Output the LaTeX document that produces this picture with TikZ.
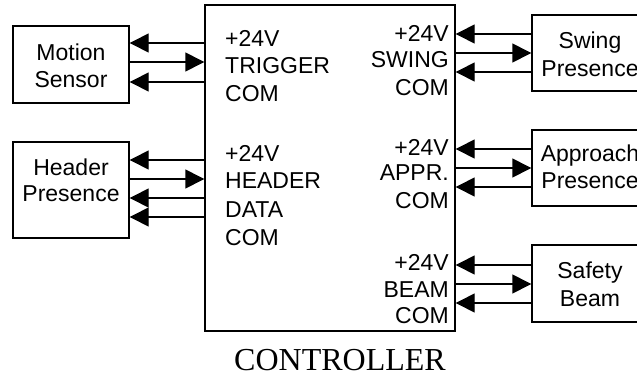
\documentclass[tikz,border=0pt]{standalone}
\usepackage{fontspec}
\setmainfont{Liberation Sans}
\newfontfamily\serifcap{Liberation Serif}
\usetikzlibrary{arrows.meta}
\begin{document}
\begin{tikzpicture}[x=1pt,y=-1pt,
  box/.style={draw,line width=1.4pt,rectangle,inner sep=0pt},
  lbl/.style={inner sep=0pt,font=\fontsize{23}{27}\selectfont},
  arr/.style={line width=1.4pt,-{Triangle[length=19pt,width=19pt]}}]
\useasboundingbox (0,0) rectangle (637,375);
\clip (0,0) rectangle (637,375);
% boxes
\node[box,minimum width=250pt,minimum height=326pt] (ctrl) at (330,168) {};
\node[box,minimum width=116pt,minimum height=77pt] (ms) at (71,64.5) {};
\node[box,minimum width=116pt,minimum height=96pt] (hp) at (71,190) {};
\node[box,minimum width=116pt,minimum height=76pt] (sp) at (590,53) {};
\node[box,minimum width=116pt,minimum height=76pt] (ap) at (590,168) {};
\node[box,minimum width=116pt,minimum height=77pt] (sb) at (590,283.5) {};
% box texts
\node[lbl,anchor=base] (t1) at (71,60.5) {Motion};
\node[lbl,anchor=base] (t2) at (71,87.5) {Sensor};
\node[lbl,anchor=base] (t3) at (71,175.5) {Header};
\node[lbl,anchor=base] (t4) at (71,201.5) {Presence};
\node[lbl,anchor=base] (t5) at (590,48.5) {Swing};
\node[lbl,anchor=base] (t6) at (590,76.5) {Presence};
\node[lbl,anchor=base] (t7) at (590,161.5) {Approach};
\node[lbl,anchor=base] (t8) at (590,188.5) {Presence};
\node[lbl,anchor=base] (t9) at (590,278.5) {Safety};
\node[lbl,anchor=base] (t10) at (590,306.5) {Beam};
% controller labels left
\node[lbl,anchor=base west] (l1) at (225,46.5) {+24V};
\node[lbl,anchor=base west] (l2) at (225,73.5) {TRIGGER};
\node[lbl,anchor=base west] (l3) at (225,101.5) {COM};
\node[lbl,anchor=base west] (l4) at (225,161.5) {+24V};
\node[lbl,anchor=base west] (l5) at (225,188.5) {HEADER};
\node[lbl,anchor=base west] (l6) at (225,217) {DATA};
\node[lbl,anchor=base west] (l7) at (225,245.5) {COM};
% controller labels right
\node[lbl,anchor=base east] (r1) at (449,41.5) {+24V};
\node[lbl,anchor=base east] (r2) at (449,67.5) {SWING};
\node[lbl,anchor=base east] (r3) at (449,95.5) {COM};
\node[lbl,anchor=base east] (r4) at (449,155.5) {+24V};
\node[lbl,anchor=base east] (r5) at (449,180.5) {APPR.};
\node[lbl,anchor=base east] (r6) at (449,208.5) {COM};
\node[lbl,anchor=base east] (r7) at (449,270.5) {+24V};
\node[lbl,anchor=base east] (r8) at (449,297.5) {BEAM};
\node[lbl,anchor=base east] (r9) at (449,323.5) {COM};
% caption
\node[inner sep=0pt,anchor=base,font=\serifcap\fontsize{32}{36}\selectfont] (cap) at (340,370) {CONTROLLER};
% arrows left: motion sensor
\draw[arr] (ctrl.west |- 0,43) -- (ms.east |- 0,43);
\draw[arr] (ms.east |- 0,62) -- (ctrl.west |- 0,62);
\draw[arr] (ctrl.west |- 0,82) -- (ms.east |- 0,82);
% arrows left: header presence
\draw[arr] (ctrl.west |- 0,160) -- (hp.east |- 0,160);
\draw[arr] (hp.east |- 0,179) -- (ctrl.west |- 0,179);
\draw[arr] (ctrl.west |- 0,198) -- (hp.east |- 0,198);
\draw[arr] (ctrl.west |- 0,217) -- (hp.east |- 0,217);
% arrows right: swing
\draw[arr] (sp.west |- 0,34) -- (ctrl.east |- 0,34);
\draw[arr] (ctrl.east |- 0,53) -- (sp.west |- 0,53);
\draw[arr] (sp.west |- 0,72) -- (ctrl.east |- 0,72);
% approach
\draw[arr] (ap.west |- 0,149) -- (ctrl.east |- 0,149);
\draw[arr] (ctrl.east |- 0,168) -- (ap.west |- 0,168);
\draw[arr] (ap.west |- 0,187) -- (ctrl.east |- 0,187);
% safety beam
\draw[arr] (sb.west |- 0,265) -- (ctrl.east |- 0,265);
\draw[arr] (ctrl.east |- 0,284) -- (sb.west |- 0,284);
\draw[arr] (sb.west |- 0,303) -- (ctrl.east |- 0,303);
\end{tikzpicture}
\end{document}
